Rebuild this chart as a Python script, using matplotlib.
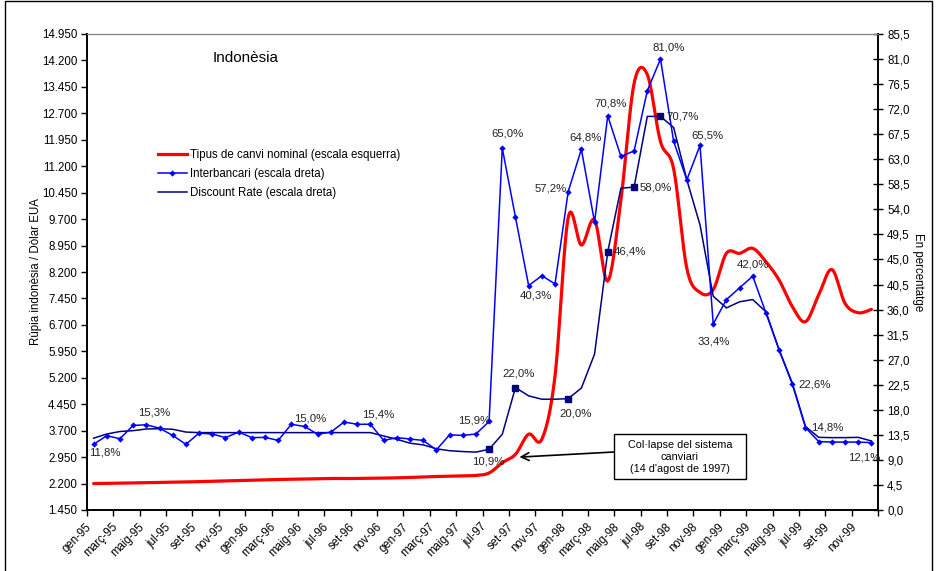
import numpy as np
import matplotlib
matplotlib.use("Agg")
import matplotlib.pyplot as plt
import matplotlib.transforms as mtransforms
from matplotlib.lines import Line2D
from matplotlib.patches import Rectangle

plt.rcParams['font.family'] = ['Liberation Sans', 'DejaVu Sans']

# --- data: monthly, gen-95 .. des-99 -------------------------------------
tick_labels = [
    'gen-95', 'març-95', 'maig-95', 'jul-95', 'set-95', 'nov-95',
    'gen-96', 'març-96', 'maig-96', 'jul-96', 'set-96', 'nov-96',
    'gen-97', 'març-97', 'maig-97', 'jul-97', 'set-97', 'nov-97',
    'gen-98', 'març-98', 'maig-98', 'jul-98', 'set-98', 'nov-98',
    'gen-99', 'març-99', 'maig-99', 'jul-99', 'set-99', 'nov-99',
]

# Nominal exchange rate (rupiah per US dollar), left scale
exchange_rate = [
    2200, 2205, 2212, 2218, 2225, 2230, 2238, 2245, 2255, 2265, 2275, 2285,
    2295, 2305, 2315, 2322, 2330, 2338, 2345, 2342, 2345, 2350, 2355, 2362,
    2375, 2390, 2400, 2410, 2420, 2430, 2500, 2790, 3030, 3600, 3455, 5250,
    9740, 8965, 9670, 7945, 10250, 13550, 13800, 11900, 11120, 8300, 7620, 7700,
    8730, 8730, 8870, 8490, 7970, 7220, 6790, 7550, 8270, 7310, 7045, 7140,
]

# Interbank rate (%), right scale
interbank = [
    11.8, 13.35, 12.8, 15.2, 15.3, 14.7, 13.4, 11.8, 13.8, 13.65, 13.0, 14.0,
    13.0, 13.05, 12.5, 15.4, 15.0, 13.6, 14.0, 15.8, 15.4, 15.4, 12.5, 13.0,
    12.75, 12.5, 10.8, 13.5, 13.4, 13.65, 15.9, 65.0, 52.6, 40.3, 42.1, 40.6,
    57.2, 64.8, 51.7, 70.8, 63.5, 64.5, 75.3, 81.0, 66.2, 59.3, 65.5, 33.4,
    37.8, 39.9, 42.0, 35.4, 28.7, 22.6, 14.8, 12.3, 12.2, 12.2, 12.2, 12.1,
]

# Discount rate (%), right scale
discount = [
    12.9, 13.65, 14.1, 14.25, 14.55, 14.6, 14.5, 14.0, 13.9, 13.9, 13.9, 13.9,
    13.9, 13.9, 13.9, 13.9, 13.9, 13.9, 13.9, 13.9, 13.9, 13.9, 13.3, 12.7,
    12.0, 11.7, 11.0, 10.65, 10.5, 10.4, 10.9, 13.6, 22.0, 20.5, 19.9, 19.9,
    20.0, 21.9, 28.0, 46.4, 57.8, 58.0, 70.7, 70.7, 68.7, 59.3, 51.2, 38.4,
    36.3, 37.4, 37.8, 35.6, 28.8, 22.8, 15.0, 13.05, 13.0, 13.0, 13.05, 12.4,
]

left_ticks = [1450, 2200, 2950, 3700, 4450, 5200, 5950, 6700, 7450, 8200,
              8950, 9700, 10450, 11200, 11950, 12700, 13450, 14200, 14950]
right_ticks = [0.0, 4.5, 9.0, 13.5, 18.0, 22.5, 27.0, 31.5, 36.0, 40.5, 45.0,
               49.5, 54.0, 58.5, 63.0, 67.5, 72.0, 76.5, 81.0, 85.5]

# labelled points: index -> offset of the label (pixels, right / up)
interbank_labels = {0: (11, -8), 4: (8, 12), 16: (6, 8), 21: (8, 10),
                    30: (-15, 1), 31: (5, 15), 33: (7, -10), 36: (-17, 3),
                    37: (4, 12), 39: (3, 12), 43: (8, 12), 46: (7, 10),
                    47: (0, -17), 50: (0, 12), 53: (22, 0), 54: (22, 0),
                    59: (-7, -15)}
discount_labels = {30: (-1, -12), 32: (3, 14), 36: (7, -15), 39: (22, 0),
                   41: (22, 0), 43: (22, 0)}

FS = 8.3


def bezier_smooth(xs, ys, steps=30):
    """Smoothed curve through the points (cubic Bezier, Catmull-Rom tangents)."""
    p = np.column_stack([xs, ys]).astype(float)
    ext = np.vstack([p[0], p, p[-1]])
    parts = []
    n = len(p)
    for i in range(n - 1):
        p0, p1, p2, p3 = ext[i], ext[i + 1], ext[i + 2], ext[i + 3]
        c1 = p1 + (p2 - p0) / 6.0
        c2 = p2 - (p3 - p1) / 6.0
        t = np.linspace(0, 1, steps, endpoint=(i == n - 2))[:, None]
        seg = ((1 - t) ** 3) * p1 + 3 * ((1 - t) ** 2) * t * c1 \
            + 3 * (1 - t) * (t ** 2) * c2 + (t ** 3) * p2
        parts.append(seg)
    arr = np.vstack(parts)
    return arr[:, 0], arr[:, 1]


def pct(v):
    return f"{v:.1f}%".replace('.', ',')


x = np.arange(len(exchange_rate))

fig = plt.figure(figsize=(9.38, 5.71), dpi=100)
ax = fig.add_axes([87 / 938, 1 - 510 / 571, 791 / 938, 476 / 571])
ax2 = ax.twinx()

RED = '#FF0000'
BLUE = '#0000FF'
NAVY = '#000080'

sx, sy = bezier_smooth(x, exchange_rate)
ax.plot(sx, sy, color=RED, lw=2.3, solid_capstyle='round', zorder=3)

ax2.plot(x, discount, color=NAVY, lw=1.1, zorder=3)
disc_idx = sorted(discount_labels)
ax2.plot([x[i] for i in disc_idx], [discount[i] for i in disc_idx],
         ls='none', marker='s', ms=5, color=NAVY, zorder=5)
ax2.plot(x, interbank, color=BLUE, lw=1.1, marker='D', ms=3.2,
         markeredgewidth=0, zorder=4)

label_kw = dict(textcoords='offset pixels', ha='center', va='center',
                fontsize=8.2, color='#222222', zorder=6)
for i, (dx, dy) in interbank_labels.items():
    ax2.annotate(pct(interbank[i]), (x[i], interbank[i]), xytext=(dx, dy), **label_kw)
for i, (dx, dy) in discount_labels.items():
    ax2.annotate(pct(discount[i]), (x[i], discount[i]), xytext=(dx, dy), **label_kw)

# axes limits and ticks
ax.set_xlim(-0.5, len(x) - 0.5)
ax.set_ylim(left_ticks[0], left_ticks[-1])
ax2.set_ylim(right_ticks[0], right_ticks[-1])

ax.set_xticks(np.arange(-0.5, len(x), 2))
ax.set_xticklabels([])
ax.set_xticks(np.arange(0, len(x), 2), minor=True)
ax.set_xticklabels(tick_labels, minor=True, rotation=45, ha='right',
                   rotation_mode='anchor', fontsize=FS)
ax.tick_params(axis='x', which='major', direction='out', length=4, width=1)
ax.tick_params(axis='x', which='minor', length=0, pad=8)
shift = mtransforms.ScaledTranslation(-8 / 100, 0, fig.dpi_scale_trans)
for lab in ax.get_xticklabels(minor=True):
    lab.set_transform(lab.get_transform() + shift)

ax.set_yticks(left_ticks)
ax.set_yticklabels([f"{v:,}".replace(',', '.') for v in left_ticks], fontsize=FS)
ax.tick_params(axis='y', direction='out', length=4, width=1, pad=3)

ax2.set_yticks(right_ticks)
ax2.set_yticklabels([f"{v:.1f}".replace('.', ',') for v in right_ticks], fontsize=FS)
ax2.tick_params(axis='y', direction='inout', length=7, width=1, pad=3)

for a in (ax, ax2):
    a.spines['top'].set_color('#808080')
    a.spines['left'].set_linewidth(1.2)
    a.spines['right'].set_linewidth(1.2)
    a.spines['bottom'].set_linewidth(1.2)

# legend
handles = [
    Line2D([], [], color=RED, lw=2.3),
    Line2D([], [], color=BLUE, lw=1.1, marker='D', ms=3.2, markeredgewidth=0),
    Line2D([], [], color=NAVY, lw=1.1),
]
names = ['Tipus de canvi nominal (escala esquerra)',
         'Interbancari (escala dreta)',
         'Discount Rate (escala dreta)']
fig.legend(handles, names, loc='upper left',
           bbox_to_anchor=(158 / 938, 1 - 149 / 571), frameon=False,
           fontsize=FS, handlelength=2.5, handletextpad=0.25,
           labelspacing=0.6, borderpad=0, borderaxespad=0)

# titles and axis captions
fig.text(213 / 938, 1 - 58 / 571, 'Indonèsia', fontsize=11, ha='left', va='center')
fig.text(36 / 938, 1 - 272 / 571, 'Rúpia indonèsia / Dòlar EUA', fontsize=FS,
         rotation=90, ha='center', va='center')
fig.text(918 / 938, 1 - 272 / 571, 'En percentatge', fontsize=FS,
         rotation=270, ha='center', va='center')

# note on the currency collapse
bx0, bx1 = (614 - 87) / 791, (746 - 87) / 791
by0, by1 = (510 - 479) / 476, (510 - 434) / 476
ax2.add_patch(Rectangle((bx0, by0), bx1 - bx0, by1 - by0, transform=ax2.transAxes,
                        facecolor='white', edgecolor='black', lw=1, zorder=7))
ax2.text((bx0 + bx1) / 2, (by0 + by1) / 2,
         "Col·lapse del sistema\ncanviari\n(14 d'agost de 1997)",
         transform=ax2.transAxes, ha='center', va='center', fontsize=7.8,
         linespacing=1.25, zorder=8)
ax.annotate('', xy=(32.3, 2950), xycoords='data',
            xytext=(bx0, (510 - 452) / 476), textcoords=ax.transAxes,
            arrowprops=dict(arrowstyle='->', color='black', lw=1.2,
                            shrinkA=0, shrinkB=0, mutation_scale=14),
            zorder=9, annotation_clip=False)

# outer frame
fig.patches.append(Rectangle((4.5 / 938, -0.02), (932 - 4.5) / 938, 1.02 - 1.5 / 571,
                             transform=fig.transFigure, fill=False,
                             edgecolor='black', lw=1))

fig.savefig('out.png', dpi=100)
